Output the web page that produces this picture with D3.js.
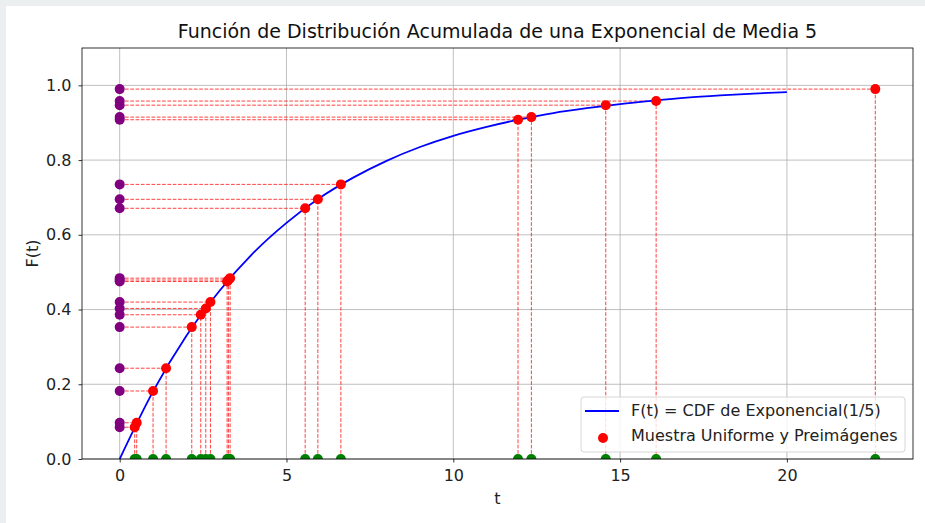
<!DOCTYPE html>
<html>
<head>
<meta charset="utf-8">
<script src="https://cdn.jsdelivr.net/npm/d3@7"></script>
<style>
    body {
        margin: 0;
        background: #eceff0;
    }
    #card {
        position: absolute;
        left: 6px;
        top: 6px;
        width: 919px;
        height: 517px;
        background: #fff;
    }
    svg {
        position: absolute;
        left: 0;
        top: 0;
        font-family: "DejaVu Sans", sans-serif;
    }
</style>
</head>
<body>
<div id="card"></div>
<svg id="chart" width="925" height="523"></svg>
<script>
// uniform sample (y) and its preimages (t)
const uSample = [0.085, 0.097, 0.182, 0.243, 0.353, 0.386, 0.403, 0.420, 0.475, 0.479, 0.484, 0.671, 0.695, 0.735, 0.908, 0.915, 0.947, 0.958, 0.990];
const tSample = [0.45, 0.51, 1.00, 1.39, 2.16, 2.43, 2.58, 2.72, 3.22, 3.26, 3.31, 5.56, 5.94, 6.63, 11.94, 12.34, 14.57, 16.08, 22.65];

// blue CDF curve, read at whole t values
const curveT = [0, 1, 2, 3, 4, 5, 6, 7, 8, 9, 10, 11, 12, 13, 14, 15, 16, 17, 18, 19, 20];
const curveF = [0, 0.181, 0.330, 0.451, 0.551, 0.632, 0.699, 0.753, 0.798, 0.835, 0.865, 0.889, 0.909, 0.926, 0.939, 0.950, 0.959, 0.967, 0.973, 0.978, 0.982];

const xTicks = [0, 5, 10, 15, 20];
const yTicks = [0, 0.2, 0.4, 0.6, 0.8, 1.0];

const legendLabels = ["F(t) = CDF de Exponencial(1/5)", "Muestra Uniforme y Preimágenes"];

const pLeft = 82, pRight = 913, pTop = 48, pBottom = 459;

const x = d3.scaleLinear().domain([-1.13, 23.78]).range([pLeft, pRight]);
const y = d3.scaleLinear().domain([0, 1.1]).range([pBottom, pTop]);

const svg = d3.select("#chart");

svg.append("defs").append("clipPath").attr("id", "plot-clip")
    .append("rect").attr("x", pLeft).attr("y", pTop).attr("width", pRight - pLeft).attr("height", pBottom - pTop);

// grid
const grid = svg.append("g");
grid.selectAll("line.gx").data(xTicks).join("line")
    .attr("x1", d => x(d)).attr("x2", d => x(d)).attr("y1", pTop).attr("y2", pBottom)
    .attr("stroke", "#b0b0b0").attr("stroke-width", 0.8);
grid.selectAll("line.gy").data(yTicks).join("line")
    .attr("x1", pLeft).attr("x2", pRight).attr("y1", d => y(d)).attr("y2", d => y(d))
    .attr("stroke", "#b0b0b0").attr("stroke-width", 0.8);

const plot = svg.append("g").attr("clip-path", "url(#plot-clip)");

const pts = uSample.map((u, i) => ({ u: u, t: tSample[i] }));

// dashed guide lines
const guides = plot.append("g").attr("stroke", "red").attr("stroke-opacity", 0.75)
    .attr("stroke-width", 1).attr("stroke-dasharray", "3.7,1.6");
guides.selectAll("line.h").data(pts).join("line").attr("class", "h")
    .attr("x1", x(0)).attr("x2", d => x(d.t)).attr("y1", d => y(d.u)).attr("y2", d => y(d.u));
guides.selectAll("line.v").data(pts).join("line").attr("class", "v")
    .attr("x1", d => x(d.t)).attr("x2", d => x(d.t)).attr("y1", y(0)).attr("y2", d => y(d.u));

// CDF curve
const line = d3.line().x(d => x(d[0])).y(d => y(d[1])).curve(d3.curveMonotoneX);
plot.append("path").datum(curveT.map((t, i) => [t, curveF[i]]))
    .attr("d", line).attr("fill", "none").attr("stroke", "blue").attr("stroke-width", 1.8);

// points
plot.append("g").selectAll("circle").data(pts).join("circle")
    .attr("cx", d => x(d.t)).attr("cy", d => y(d.u)).attr("r", 5).attr("fill", "red");
plot.append("g").selectAll("circle").data(pts).join("circle")
    .attr("cx", x(0)).attr("cy", d => y(d.u)).attr("r", 5).attr("fill", "purple");
plot.append("g").selectAll("circle").data(pts).join("circle")
    .attr("cx", d => x(d.t)).attr("cy", y(0)).attr("r", 5).attr("fill", "green");

// axes
const xAxis = svg.append("g").attr("transform", `translate(0,${pBottom})`)
    .call(d3.axisBottom(x).tickValues(xTicks).tickFormat(d3.format("d")).tickSizeOuter(0).tickSize(3.5).tickPadding(7));
const yAxis = svg.append("g").attr("transform", `translate(${pLeft},0)`)
    .call(d3.axisLeft(y).tickValues(yTicks).tickFormat(d3.format(".1f")).tickSizeOuter(0).tickSize(3.5).tickPadding(7));
[xAxis, yAxis].forEach(a => {
    a.select(".domain").remove();
    a.selectAll(".tick line").attr("stroke", "#000").attr("stroke-width", 0.8);
    a.selectAll(".tick text").attr("font-size", "16px").attr("font-family", "DejaVu Sans").attr("fill", "#222");
});

svg.append("rect").attr("x", pLeft).attr("y", pTop).attr("width", pRight - pLeft).attr("height", pBottom - pTop)
    .attr("fill", "none").attr("stroke", "#000").attr("stroke-width", 0.8);

// labels
svg.append("text").attr("x", (pLeft + pRight) / 2).attr("y", 38).attr("text-anchor", "middle")
    .attr("font-size", "19px").attr("fill", "#111")
    .text("Función de Distribución Acumulada de una Exponencial de Media 5");
svg.append("text").attr("x", (pLeft + pRight) / 2).attr("y", 504).attr("text-anchor", "middle")
    .attr("font-size", "16px").attr("fill", "#222").text("t");
svg.append("text").attr("transform", `translate(37.5,${(pTop + pBottom) / 2}) rotate(-90)`).attr("text-anchor", "middle")
    .attr("font-size", "16px").attr("fill", "#222").text("F(t)");

// legend
const lg = svg.append("g");
lg.append("rect").attr("x", 581).attr("y", 397).attr("width", 324).attr("height", 55).attr("rx", 3)
    .attr("fill", "#fff").attr("fill-opacity", 0.8).attr("stroke", "#cccccc").attr("stroke-width", 0.8);
lg.append("line").attr("x1", 585).attr("x2", 619).attr("y1", 411).attr("y2", 411)
    .attr("stroke", "blue").attr("stroke-width", 1.8);
lg.append("circle").attr("cx", 603).attr("cy", 438).attr("r", 5).attr("fill", "red");
lg.selectAll("text").data(legendLabels).join("text")
    .attr("x", 631).attr("y", (d, i) => 416 + i * 25)
    .attr("font-size", "16px").attr("fill", "#222").text(d => d);
</script>
</body>
</html>
